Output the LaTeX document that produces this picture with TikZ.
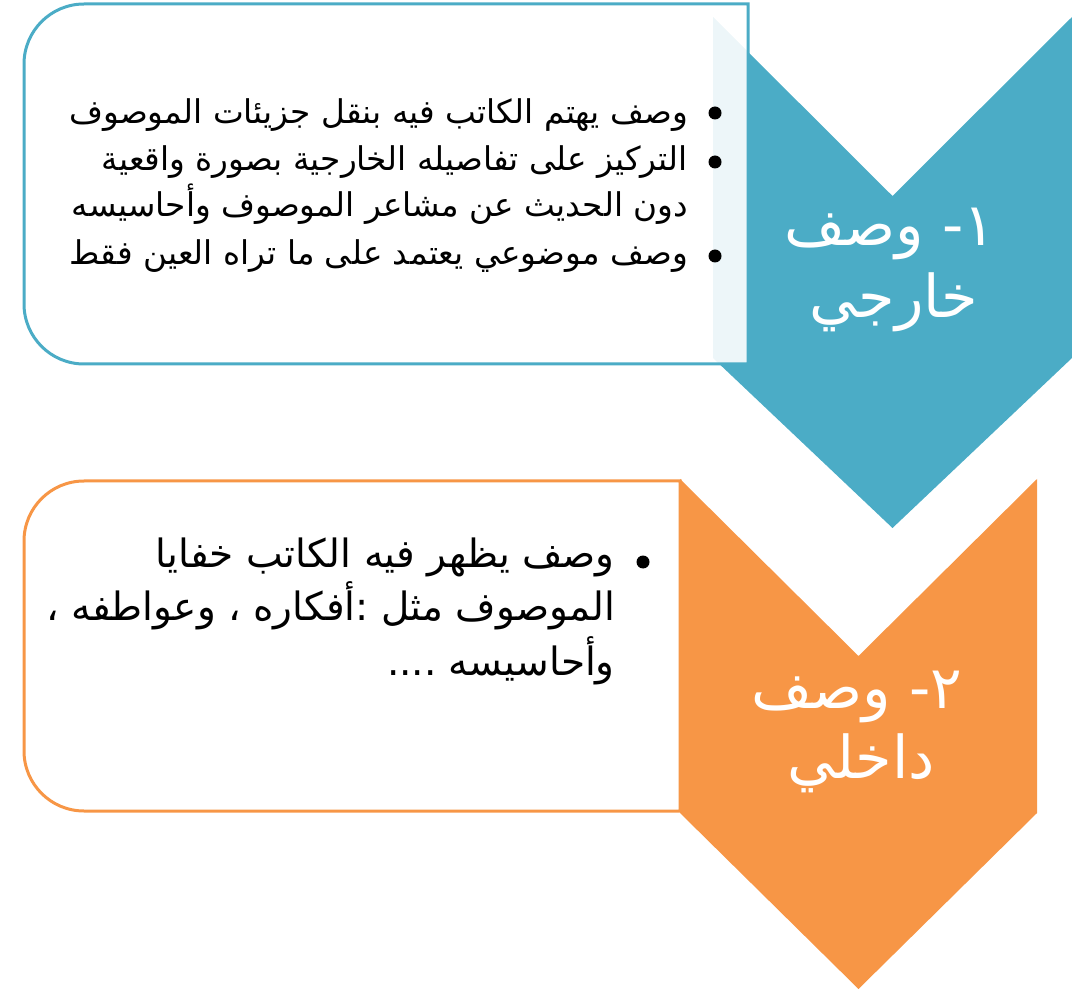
\documentclass[tikz,border=0pt]{standalone}
\usepackage{fontspec}
\TeXXeTstate=1
\newfontfamily\arabicfont[Script=Arabic]{DejaVu Sans}
\definecolor{teal1}{HTML}{4BACC6}
\definecolor{orange1}{HTML}{F79646}
\tikzset{
  boxtext/.style={anchor=base east, inner sep=0pt, text=black, font=\arabicfont\fontsize{32.7}{36}\selectfont},
  boxtextb/.style={anchor=base east, inner sep=0pt, text=black, font=\arabicfont\fontsize{39}{44}\selectfont},
  bul/.style={circle, fill=black, inner sep=0pt, minimum size=13pt},
  label/.style={anchor=base, inner sep=0pt, text=white, font=\arabicfont\fontsize{59}{64}\selectfont},
  listbox/.style={line width=3pt, fill=white, fill opacity=0.9, draw opacity=1}
}
\begin{document}
\begin{tikzpicture}[x=1pt,y=-1pt]
\useasboundingbox (0,0) rectangle (1072,992);
% chevrons
\fill[teal1] (713,17) -- (892.5,196) -- (1072,17) -- (1072,358) -- (892.5,528) -- (713,358) -- cycle;
\fill[orange1] (680,479) -- (858.5,656) -- (1037,479) -- (1037,813) -- (858.5,989) -- (680,813) -- cycle;
% boxes
\draw[listbox, draw=teal1] (748,4) -- (84,4) arc[start angle=270, end angle=180, radius=60] -- (24,304) arc[start angle=180, end angle=90, radius=60] -- (748,364) -- cycle;
\draw[listbox, draw=orange1] (680,481) -- (84,481) arc[start angle=270, end angle=180, radius=60] -- (24,751) arc[start angle=180, end angle=90, radius=60] -- (680,811) -- cycle;
% labels
\node[label] (l1a) at (890,246) {\beginR ١- وصف\endR};
\node[label] (l1b) at (894,318) {\beginR خارجي\endR};
\node[label] (l2a) at (857,708) {\beginR ٢- وصف\endR};
\node[label] (l2b) at (861,778) {\beginR داخلي\endR};
% box 1 text
\node[bul] (b11) at (715,113) {};
\node[bul] (b12) at (715,162) {};
\node[bul] (b13) at (715,256) {};
\node[boxtext] (t11) at (688,124) {\beginR وصف يهتم الكاتب فيه بنقل جزيئات الموصوف\endR};
\node[boxtext] (t12) at (688,171) {\beginR التركيز على تفاصيله الخارجية بصورة واقعية\endR};
\node[boxtext] (t13) at (688,217) {\beginR دون الحديث عن مشاعر الموصوف وأحاسيسه\endR};
\node[boxtext] (t14) at (688,265) {\beginR وصف موضوعي يعتمد على ما تراه العين فقط\endR};
% box 2 text
\node[bul] (b21) at (643,562) {};
\node[boxtextb] (t21) at (615,567) {\beginR وصف يظهر فيه الكاتب خفايا\endR};
\node[boxtextb] (t22) at (615,620) {\beginR الموصوف مثل :أفكاره ، وعواطفه ،\endR};
\node[boxtextb] (t23) at (615,675) {\beginR وأحاسيسه ....\endR};
\end{tikzpicture}
\end{document}
